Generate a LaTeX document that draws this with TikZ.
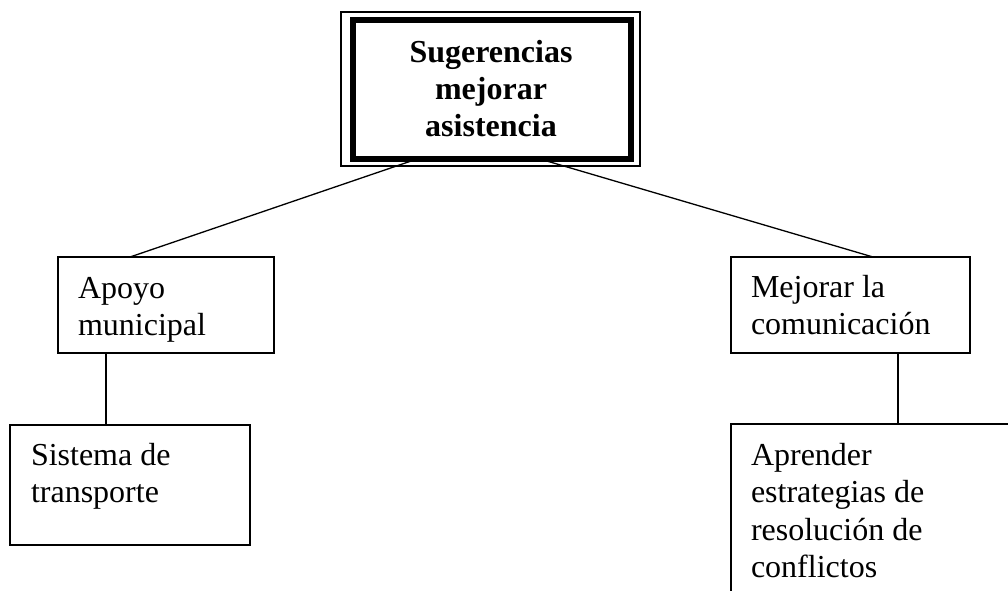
\documentclass[tikz,border=0pt]{standalone}
\usepackage{fontspec}
\setmainfont{Liberation Serif}
\begin{document}
\begin{tikzpicture}[x=1pt,y=-1pt,
  box/.style={draw,line width=1.3pt,rectangle,inner sep=0pt,outer sep=0pt,anchor=north west},
  txt/.style={inner sep=0pt,outer sep=0pt,anchor=north west,align=left,font=\fontsize{32}{37.5}\selectfont},
  link/.style={line width=1.3pt}]
\useasboundingbox (0,0) rectangle (1008,590);
\clip (0,0) rectangle (1008,590);
% top box: double frame
\node[box,line width=1.5pt,minimum width=299pt,minimum height=154pt] (outer) at (341,12) {};
\node[box,line width=6pt,minimum width=278pt,minimum height=139.5pt] (inner) at (353,19.5) {};
\node[txt,anchor=north,align=center,font=\fontsize{32}{37}\selectfont\bfseries] (ttop) at (491,37) {\strut Sugerencias\\mejorar\\asistencia};
% left branch
\node[box,minimum width=216pt,minimum height=96pt] (b1) at (58,257) {};
\node[txt] (tb1) at (78,272) {\strut Apoyo\\municipal};
\node[box,minimum width=240pt,minimum height=120pt] (b2) at (10,425) {};
\node[txt] (tb2) at (31,439) {\strut Sistema de\\transporte};
% right branch
\node[box,minimum width=239pt,minimum height=96pt] (r1) at (731,257) {};
\node[txt] (tr1) at (751,271) {\strut Mejorar la\\comunicación};
\node[box,minimum width=300pt,minimum height=200pt] (r2) at (731,424) {};
\node[txt] (tr2) at (751,439) {\strut Aprender\\estrategias de\\resolución de\\conflictos};
% connectors
\draw[link] ([xshift=-75pt]inner.south) -- ([xshift=-36pt]b1.north);
\draw[link] ([xshift=48pt]inner.south) -- ([xshift=22.5pt]r1.north);
\draw[link] ([xshift=-60pt]b1.south) -- ([xshift=-60pt]b1.south |- b2.north);
\draw[link] ([xshift=47.5pt]r1.south) -- ([xshift=47.5pt]r1.south |- r2.north);
\end{tikzpicture}
\end{document}
